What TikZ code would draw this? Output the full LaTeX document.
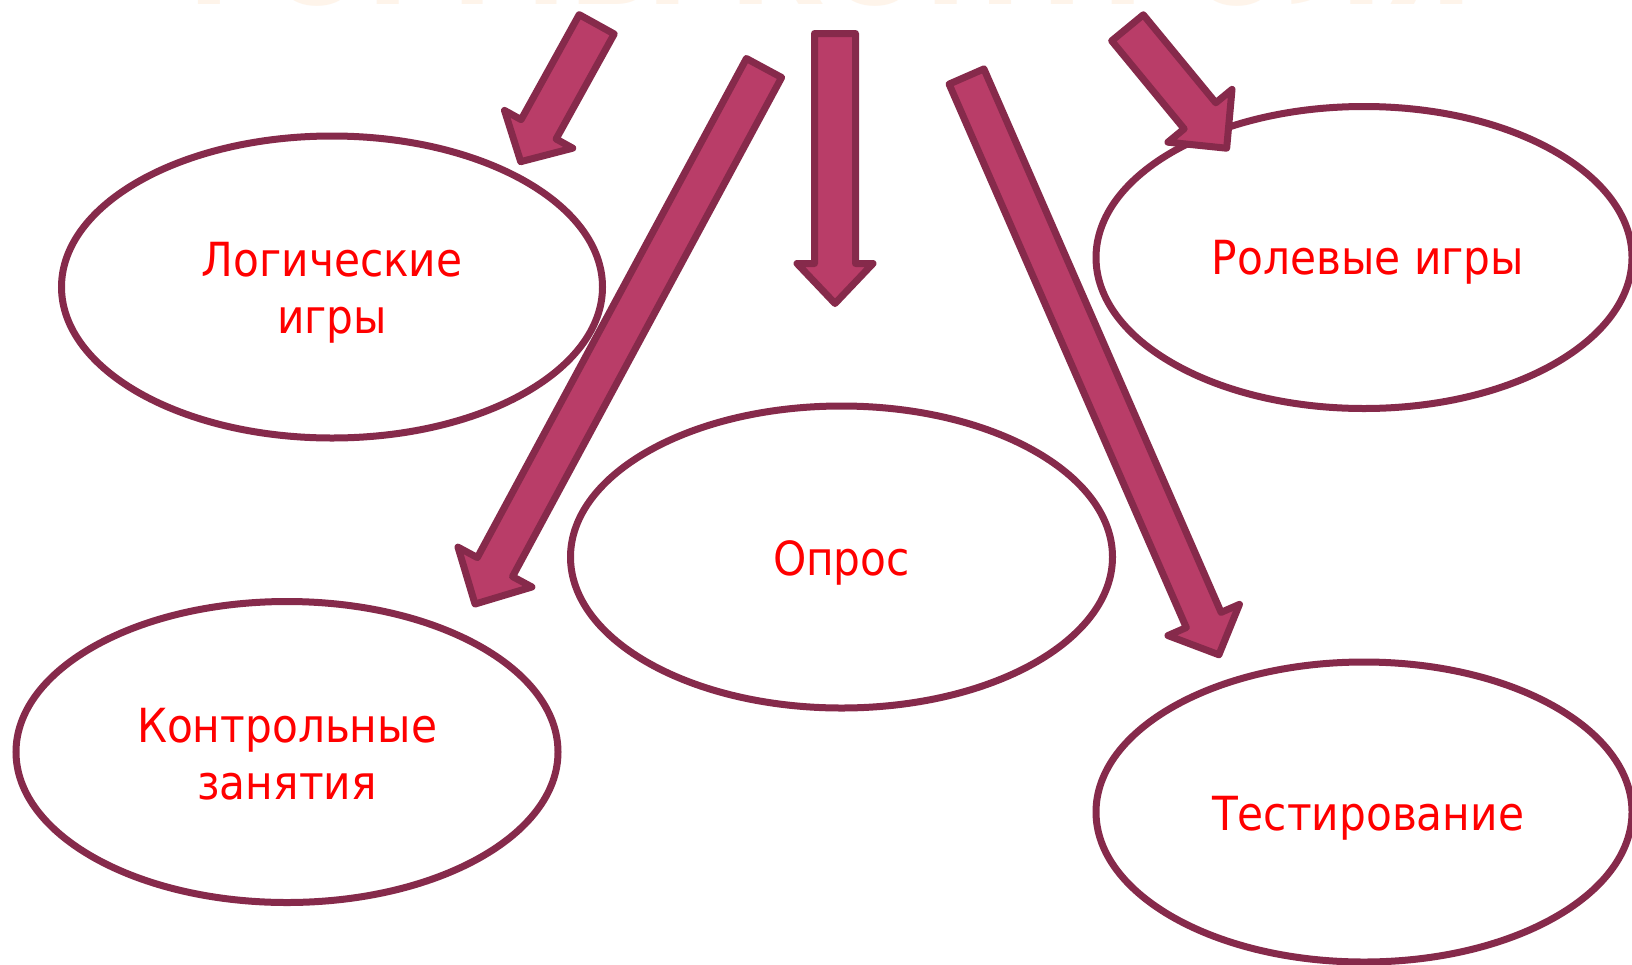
\documentclass[tikz,border=0pt]{standalone}
\usepackage{fontspec}
\usepackage{graphicx}
\usetikzlibrary{shapes.geometric}
\newfontfamily\labelfont{DejaVu Sans}[FakeStretch=0.9]
\newfontfamily\titlefont{DejaVu Sans}[FakeStretch=0.9]
\definecolor{maroon}{RGB}{134,42,75}
\definecolor{arrowfill}{RGB}{185,61,104}
\definecolor{labelred}{RGB}{255,0,0}
\definecolor{faint}{RGB}{254,244,234}
\newcommand\blockarrow[6]{%
  \begin{scope}[shift={(#1)},rotate=#2]
    \draw[barrow] (0,{-#4/2}) -- ({#3-#6},{-#4/2}) -- ({#3-#6},{-#5/2}) -- (#3,0)
      -- ({#3-#6},{#5/2}) -- ({#3-#6},{#4/2}) -- (0,{#4/2}) -- cycle;
  \end{scope}}
\tikzset{
  oval/.style={ellipse, draw=maroon, line width=7pt, fill=white, inner sep=0pt},
  lbl/.style={text=labelred, align=center, inner sep=0pt,
    font=\labelfont\fontsize{47}{57}\selectfont},
  barrow/.style={draw=maroon, fill=arrowfill, line width=7pt, line join=round}
}
\begin{document}
\begin{tikzpicture}[x=1pt,y=1pt]
\useasboundingbox (0,0) rectangle (1632,-964);
\fill[white] (0,0) rectangle (1632,-964);
\node[anchor=base west, inner sep=0pt, text=faint] (title) at (151,-4)
  {\resizebox{1322pt}{!}{\titlefont\bfseries ФОРМЫ КОНТРОЛЯ}};
\node[oval, minimum width=541pt, minimum height=302pt] (logic) at (332,-287) {};
\node[oval, minimum width=542pt, minimum height=302pt] (survey) at (841.5,-557) {};
\node[oval, minimum width=536pt, minimum height=302pt] (role) at (1364,-257.5) {};
\node[oval, minimum width=542pt, minimum height=301pt] (control) at (287,-752) {};
\node[oval, minimum width=536pt, minimum height=300pt] (test) at (1364,-812) {};
\node[lbl] (logic-t) at ([yshift=-6pt]logic.center) {Логические\\игры};
\node[lbl] (survey-t) at ([yshift=-6pt]survey.center) {Опрос};
\node[lbl] (role-t) at ([xshift=4pt,yshift=-5pt]role.center) {Ролевые игры};
\node[lbl] (control-t) at ([yshift=-2pt]control.center) {Контрольные\\занятия};
\node[lbl] (test-t) at ([xshift=4pt,yshift=-6pt]test.center) {Тестирование};
\blockarrow{596.7,-24.3}{241.05}{157}{40}{78}{37}
\blockarrow{764,-68}{241.67}{609}{40}{84}{42}
\blockarrow{835,-33.5}{270}{270}{41}{76}{40}
\blockarrow{966.5,-76.5}{-66.42}{631}{38}{78}{38}
\blockarrow{1127.5,-27.8}{-50.53}{156}{41}{83}{42}
\end{tikzpicture}
\end{document}
